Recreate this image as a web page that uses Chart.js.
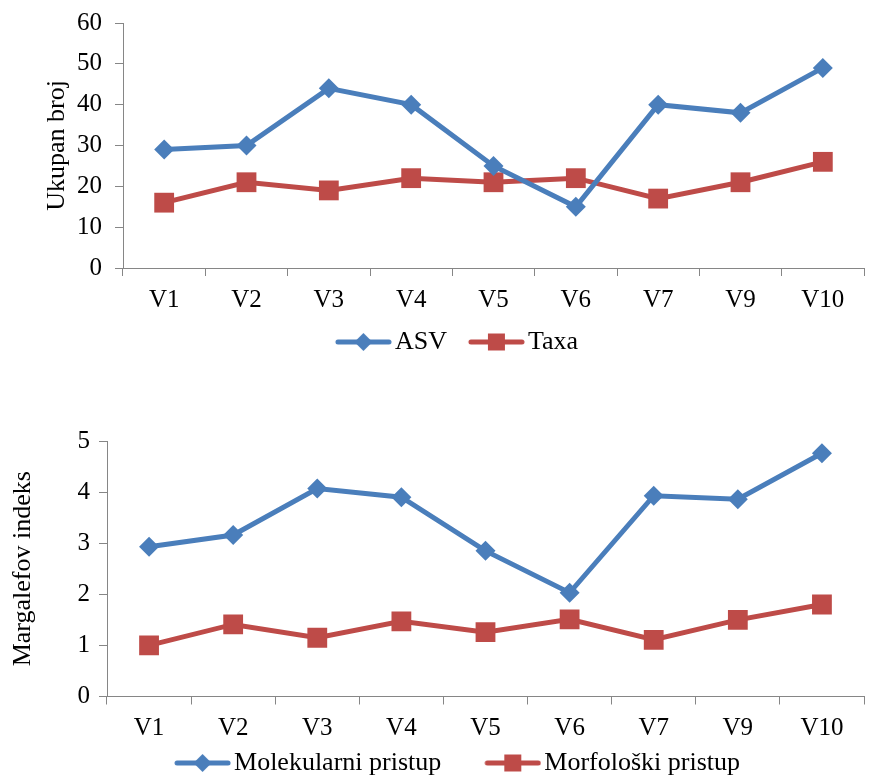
<!DOCTYPE html>
<html>
<head>
<meta charset="utf-8">
<script src="https://cdn.jsdelivr.net/npm/chart.js@4"></script>
<style>
  html, body { margin: 0; padding: 0; background: #fff; overflow: hidden; }
  #wrap { position: relative; width: 878px; height: 779px; }
  #top { position: absolute; left: 0; top: 0; }
  #bottom { position: absolute; left: 0; top: 380px; }
</style>
</head>
<body>
<div id="wrap">
  <canvas id="top" width="878" height="390"></canvas>
  <canvas id="bottom" width="878" height="420"></canvas>
</div>
<script>
const sites = ['V1', 'V2', 'V3', 'V4', 'V5', 'V6', 'V7', 'V9', 'V10'];

// Ukupan broj
const asv = [29, 30, 44, 40, 25, 15, 40, 38, 49];
const taxa = [16, 21, 19, 22, 21, 22, 17, 21, 26];

// Margalefov indeks
const molekularni = [2.93, 3.16, 4.07, 3.90, 2.85, 2.03, 3.93, 3.86, 4.76];
const morfoloski = [1.00, 1.41, 1.15, 1.47, 1.26, 1.51, 1.11, 1.50, 1.80];

const BLUE = '#4A7EBB';
const RED = '#BE4B48';
const AXIS = '#868686';
const FONT = 'Liberation Serif';

// line+marker picture for the legend, like excel draws it.
// boxW is the legend box width, the visible part sits at its right end
function legendIcon(color, shape, boxW) {
    const c = document.createElement('canvas');
    c.width = boxW + 20; c.height = 22;
    const x0 = c.width - 57;
    const mid = x0 + 28.5;
    const ctx = c.getContext('2d');
    ctx.strokeStyle = color;
    ctx.lineWidth = 5;
    ctx.lineCap = 'round';
    ctx.beginPath();
    ctx.moveTo(x0 + 3, 11); ctx.lineTo(x0 + 54, 11);
    ctx.stroke();
    ctx.fillStyle = color;
    ctx.beginPath();
    if (shape === 'diamond') {
        ctx.moveTo(mid, 2); ctx.lineTo(mid + 9, 11); ctx.lineTo(mid, 20); ctx.lineTo(mid - 9, 11);
    } else {
        ctx.rect(mid - 8.5, 2.5, 17, 17);
    }
    ctx.fill();
    return c;
}

// y axis title, placed like excel does it (chart.js' own one kept jumping around)
const yTitle = {
    id: 'yTitle',
    afterDraw(chart, args, opts) {
        const {ctx, chartArea} = chart;
        ctx.save();
        ctx.translate(opts.x, (chartArea.top + chartArea.bottom) / 2);
        ctx.rotate(-Math.PI / 2);
        ctx.font = '26px "' + FONT + '"';
        ctx.fillStyle = '#000';
        ctx.textAlign = 'center';
        ctx.textBaseline = 'middle';
        ctx.fillText(opts.text, 0, 0);
        ctx.restore();
    }
};

function makeChart(canvas, cfg) {
    return new Chart(canvas.getContext('2d'), {
        type: 'line',
        data: {
            labels: sites,
            datasets: [{
                label: cfg.names[0],
                data: cfg.series[0],
                borderColor: BLUE,
                backgroundColor: BLUE,
                borderWidth: 5,
                pointStyle: 'rectRot',
                pointRadius: 10,
                pointBorderWidth: 0,
                pointHoverRadius: 10,
                tension: 0,
                fill: false
            }, {
                label: cfg.names[1],
                data: cfg.series[1],
                borderColor: RED,
                backgroundColor: RED,
                borderWidth: 5,
                pointStyle: 'rect',
                pointRadius: 14,
                pointBorderWidth: 0,
                pointHoverRadius: 14,
                tension: 0,
                fill: false
            }]
        },
        plugins: [yTitle],
        options: {
            responsive: false,
            animation: false,
            events: [],
            layout: { padding: cfg.padding },
            scales: {
                x: {
                    offset: true,
                    grid: { offset: true, drawOnChartArea: false, tickLength: 8, color: AXIS },
                    border: { color: AXIS, width: 1 },
                    ticks: { color: '#000', padding: 9, maxRotation: 0, autoSkip: false,
                             font: { family: FONT, size: 25 } },
                    afterFit: (s) => { s.height = cfg.xHeight; }
                },
                y: {
                    min: 0,
                    max: cfg.max,
                    grid: { drawOnChartArea: false, tickLength: 8, color: AXIS },
                    border: { color: AXIS, width: 1 },
                    ticks: { stepSize: cfg.step, color: '#000', padding: cfg.tickPad,
                             font: { family: FONT, size: 25, lineHeight: 0.8 } },
                    afterFit: (s) => { s.width = cfg.yWidth; }
                }
            },
            plugins: {
                tooltip: { enabled: false },
                yTitle: { text: cfg.title, x: cfg.titleX },
                legend: {
                    position: 'bottom',
                    labels: {
                        color: '#000',
                        font: { family: FONT, size: 26 },
                        usePointStyle: true,
                        pointStyleWidth: cfg.boxW,
                        boxHeight: 22,
                        padding: 8,
                        generateLabels: (chart) => {
                            const items = Chart.defaults.plugins.legend.labels.generateLabels(chart);
                            items[0].pointStyle = legendIcon(BLUE, 'diamond', cfg.boxW);
                            items[1].pointStyle = legendIcon(RED, 'square', cfg.boxW);
                            return items;
                        }
                    }
                }
            }
        }
    });
}

makeChart(document.getElementById('top'), {
    names: ['ASV', 'Taxa'],
    series: [asv, taxa],
    max: 60, step: 10,
    title: 'Ukupan broj', titleX: 57,
    padding: { left: 22, right: 0, top: 23, bottom: 25 },
    yWidth: 101, xHeight: 53,
    tickPad: 13,
    boxW: 60
});

makeChart(document.getElementById('bottom'), {
    names: ['Molekularni pristup', 'Morfološki pristup'],
    series: [molekularni, morfoloski],
    max: 5, step: 1,
    title: 'Margalefov indeks', titleX: 23,
    padding: { left: 1, right: 0, top: 61, bottom: 14 },
    yWidth: 106, xHeight: 45.5,
    tickPad: 9,
    boxW: 82
});
</script>
</body>
</html>
